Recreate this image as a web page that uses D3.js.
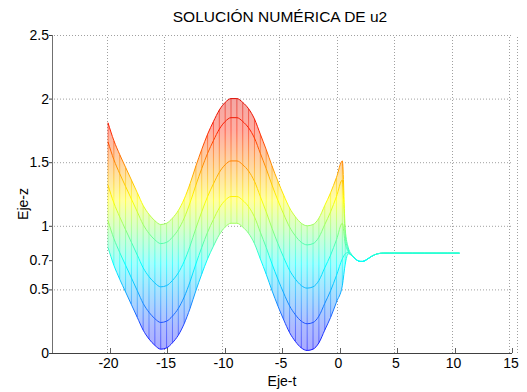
<!DOCTYPE html>
<html>
<head>
<meta charset="utf-8">
<script src="https://cdn.jsdelivr.net/npm/d3@7"></script>
<style>
  body { margin: 0; background: #fff; }
  svg { font-family: 'Liberation Sans', Arial, sans-serif; }
</style>
</head>
<body>
<div class="chart"></div>
<script>
// mesh part, t from -20 to 0
const tMesh = [-20, -19.5, -19, -18.5, -18, -17.5, -17, -16.5, -16, -15.5,
  -15, -14.5, -14, -13.5, -13, -12.5, -12, -11.5, -11, -10.5,
  -10, -9.5, -9, -8.5, -8, -7.5, -7, -6.5, -6, -5.5,
  -5, -4.5, -4, -3.5, -3, -2.5, -2, -1.5, -1, -0.5, 0];
const zTop = [1.81, 1.67, 1.56, 1.46, 1.36, 1.26, 1.16, 1.09, 1.04, 1.01,
  1.02, 1.06, 1.12, 1.21, 1.33, 1.47, 1.60, 1.72, 1.82, 1.91,
  1.97, 2.00, 2.00, 1.97, 1.92, 1.84, 1.72, 1.60, 1.47, 1.35,
  1.24, 1.14, 1.07, 1.02, 1.00, 1.01, 1.06, 1.16, 1.26, 1.38, 1.51];
const z3 = [1.66, 1.52, 1.41, 1.31, 1.21, 1.11, 1.01, 0.94, 0.89, 0.86,
  0.87, 0.91, 0.97, 1.06, 1.18, 1.32, 1.45, 1.57, 1.67, 1.76,
  1.82, 1.85, 1.85, 1.82, 1.77, 1.69, 1.57, 1.45, 1.32, 1.20,
  1.09, 0.99, 0.92, 0.87, 0.85, 0.86, 0.91, 1.01, 1.11, 1.23, 1.36];
const z2 = [1.32, 1.18, 1.07, 0.97, 0.87, 0.77, 0.67, 0.60, 0.55, 0.52,
  0.53, 0.57, 0.63, 0.72, 0.84, 0.98, 1.11, 1.23, 1.33, 1.42,
  1.48, 1.51, 1.51, 1.48, 1.43, 1.35, 1.23, 1.11, 0.98, 0.86,
  0.75, 0.65, 0.58, 0.53, 0.51, 0.52, 0.57, 0.67, 0.77, 0.89, 1.02];
const z1 = [1.04, 0.90, 0.79, 0.69, 0.59, 0.49, 0.39, 0.32, 0.27, 0.24,
  0.25, 0.29, 0.35, 0.44, 0.56, 0.70, 0.83, 0.95, 1.05, 1.14,
  1.20, 1.23, 1.23, 1.20, 1.15, 1.07, 0.95, 0.83, 0.70, 0.58,
  0.47, 0.37, 0.30, 0.25, 0.23, 0.24, 0.29, 0.39, 0.49, 0.61, 0.74];
const zBot = [0.83, 0.69, 0.58, 0.48, 0.38, 0.28, 0.18, 0.11, 0.06, 0.03,
  0.04, 0.08, 0.14, 0.23, 0.35, 0.49, 0.62, 0.74, 0.84, 0.93,
  0.99, 1.02, 1.02, 0.99, 0.94, 0.86, 0.74, 0.62, 0.49, 0.37,
  0.26, 0.16, 0.09, 0.04, 0.02, 0.03, 0.08, 0.18, 0.28, 0.40, 0.53];

// tail after t = 0
const tTail = [0.25, 0.5, 0.75, 1, 1.25, 1.5, 1.75, 2, 2.5, 3, 3.5, 4, 5, 6, 7, 8, 9, 10];
const zTopTail = [0.97, 0.83, 0.78, 0.75, 0.73, 0.72, 0.72, 0.73, 0.76, 0.78, 0.785, 0.785, 0.785, 0.785, 0.785, 0.785, 0.785, 0.785];
const z3Tail = [0.92, 0.81, 0.77, 0.75, 0.73, 0.72, 0.72, 0.73, 0.76, 0.78, 0.785, 0.785, 0.785, 0.785, 0.785, 0.785, 0.785, 0.785];
const z2Tail = [0.86, 0.80, 0.77, 0.75, 0.73, 0.72, 0.72, 0.73, 0.76, 0.78, 0.785, 0.785, 0.785, 0.785, 0.785, 0.785, 0.785, 0.785];
const z1Tail = [0.78, 0.79, 0.77, 0.75, 0.73, 0.72, 0.72, 0.73, 0.76, 0.78, 0.785, 0.785, 0.785, 0.785, 0.785, 0.785, 0.785, 0.785];
const zBotTail = [0.70, 0.78, 0.77, 0.75, 0.73, 0.72, 0.72, 0.73, 0.76, 0.78, 0.785, 0.785, 0.785, 0.785, 0.785, 0.785, 0.785, 0.785];

const xTicks = [-20, -15, -10, -5, 0, 5, 10, 15];
const yTicks = [0, 0.5, 0.73, 1, 1.5, 2, 2.5];
const yTickLabels = ['0', '0.5', '0.7', '1', '1.5', '2', '2.5'];
const yGrid = [0.5, 1, 1.5, 2, 2.5];

const w = 527;
const h = 392;
const gridColor = '#a0a0a0';

const xScale = d3.scaleLinear().domain([-25, 15]).range([52, 512]);
const yScale = d3.scaleLinear().domain([0, 2.5]).range([353, 35]);
// the mesh sits a bit nearer than the axis frame (3-D view)
const xData = d3.scaleLinear().domain([-20, 10]).range([xScale(-20) - 1.5, xScale(10) + 5]);

const tAll = tMesh.concat(tTail);
const curves = [
  zBot.concat(zBotTail),
  z1.concat(z1Tail),
  z2.concat(z2Tail),
  z3.concat(z3Tail),
  zTop.concat(zTopTail)
];

const svg = d3.select('.chart')
  .append('svg')
  .attr('width', w)
  .attr('height', h);

// jet colour by height
const jetStops = [[0, '#1010ff'], [0.2, '#2040ff'], [0.7, '#00ffff'],
  [1.2, '#ffff00'], [1.75, '#ff2000'], [2.1, '#d00000']];
const grad = svg.append('defs')
  .append('linearGradient')
  .attr('id', 'jet')
  .attr('gradientUnits', 'userSpaceOnUse')
  .attr('x1', 0).attr('x2', 0)
  .attr('y1', yScale(0)).attr('y2', yScale(2.1));
grad.selectAll('stop')
  .data(jetStops)
  .enter()
  .append('stop')
  .attr('offset', (d) => d[0] / 2.1)
  .attr('stop-color', (d) => d[1]);

// grid
svg.append('g')
  .selectAll('line')
  .data(yGrid)
  .enter()
  .append('line')
  .attr('x1', xScale(-25) + 2)
  .attr('x2', xScale(15) + 1)
  .attr('y1', (d) => yScale(d) + 0.5)
  .attr('y2', (d) => yScale(d) + 0.5)
  .attr('stroke', gridColor)
  .attr('stroke-dasharray', '1,2');

svg.append('g')
  .selectAll('line')
  .data(xTicks)
  .enter()
  .append('line')
  .attr('x1', (d) => Math.round(xScale(d)) - 3 + 0.5)
  .attr('x2', (d) => Math.round(xScale(d)) - 3 + 0.5)
  .attr('y1', yScale(0))
  .attr('y2', yScale(2.5))
  .attr('stroke', gridColor)
  .attr('stroke-dasharray', '1,2');

svg.append('line')
  .attr('x1', Math.round(xScale(15)) + 5.5)
  .attr('x2', Math.round(xScale(15)) + 5.5)
  .attr('y1', yScale(0))
  .attr('y2', yScale(2.5))
  .attr('stroke', gridColor)
  .attr('stroke-dasharray', '1,2');

// mesh
const mesh = svg.append('g');

const area = (lo, hi) => d3.area()
  .x((d, i) => xData(tAll[i]))
  .y0((d, i) => yScale(lo[i]))
  .y1((d, i) => yScale(hi[i]))
  .curve(d3.curveMonotoneX);

mesh.append('path')
  .attr('d', area(curves[0], curves[4])(tAll))
  .attr('fill', '#fff');

for (let k = 0; k < curves.length - 1; k++) {
  mesh.append('path')
    .attr('d', area(curves[k], curves[k + 1])(tAll))
    .attr('fill', 'url(#jet)')
    .attr('fill-opacity', 0.36);
}

mesh.selectAll('line.rib')
  .data(tAll)
  .enter()
  .append('line')
  .attr('class', 'rib')
  .attr('x1', (d) => xData(d))
  .attr('x2', (d) => xData(d))
  .attr('y1', (d, i) => yScale(curves[0][i]))
  .attr('y2', (d, i) => yScale(curves[4][i]))
  .attr('stroke', 'url(#jet)')
  .attr('stroke-width', 1)
  .attr('stroke-opacity', 0.55);

const line = d3.line()
  .x((d, i) => xData(tAll[i]))
  .y((d) => yScale(d))
  .curve(d3.curveMonotoneX);

mesh.selectAll('path.curve')
  .data(curves)
  .enter()
  .append('path')
  .attr('class', 'curve')
  .attr('d', line)
  .attr('fill', 'none')
  .attr('stroke', 'url(#jet)')
  .attr('stroke-width', 1);

// axes
const axes = svg.append('g');

axes.append('line')
  .attr('x1', xScale(-25))
  .attr('x2', xScale(15))
  .attr('y1', yScale(0) + 0.5)
  .attr('y2', yScale(0) + 0.5)
  .attr('stroke', '#404040');

axes.append('line')
  .attr('x1', xScale(-25) + 0.5)
  .attr('x2', xScale(-25) + 0.5)
  .attr('y1', yScale(0))
  .attr('y2', yScale(2.5))
  .attr('stroke', '#707070');

axes.selectAll('line.xt')
  .data(xTicks)
  .enter()
  .append('line')
  .attr('class', 'xt')
  .attr('x1', (d) => Math.round(xScale(d)) + 0.5)
  .attr('x2', (d) => Math.round(xScale(d)) + 0.5)
  .attr('y1', yScale(0))
  .attr('y2', yScale(0) - 5)
  .attr('stroke', '#606060');

axes.selectAll('text.xl')
  .data(xTicks)
  .enter()
  .append('text')
  .attr('class', 'xl')
  .attr('x', (d) => xScale(d) - 1)
  .attr('y', yScale(0) + 15)
  .attr('text-anchor', 'middle')
  .style('font-size', '14px')
  .text((d) => (d < 0 ? '-' + Math.abs(d) : d));

axes.selectAll('line.yt')
  .data(yTicks)
  .enter()
  .append('line')
  .attr('class', 'yt')
  .attr('x1', xScale(-25) - 3)
  .attr('x2', xScale(-25))
  .attr('y1', (d) => yScale(d) + 0.5)
  .attr('y2', (d) => yScale(d) + 0.5)
  .attr('stroke', '#404040');

axes.selectAll('text.yl')
  .data(yTicks)
  .enter()
  .append('text')
  .attr('class', 'yl')
  .attr('x', xScale(-25) - 3)
  .attr('y', (d) => yScale(d) + 5)
  .attr('text-anchor', 'end')
  .style('font-size', '14px')
  .text((d, i) => yTickLabels[i]);

// titles
svg.append('text')
  .attr('x', 280)
  .attr('y', 22)
  .attr('text-anchor', 'middle')
  .style('font-size', '15.5px')
  .text('SOLUCIÓN NUMÉRICA DE u2');

svg.append('text')
  .attr('x', 282)
  .attr('y', 386)
  .attr('text-anchor', 'middle')
  .style('font-size', '14px')
  .text('Eje-t');

svg.append('text')
  .attr('transform', 'translate(28, 204) rotate(-90)')
  .attr('text-anchor', 'middle')
  .style('font-size', '14px')
  .text('Eje-z');
</script>
</body>
</html>
